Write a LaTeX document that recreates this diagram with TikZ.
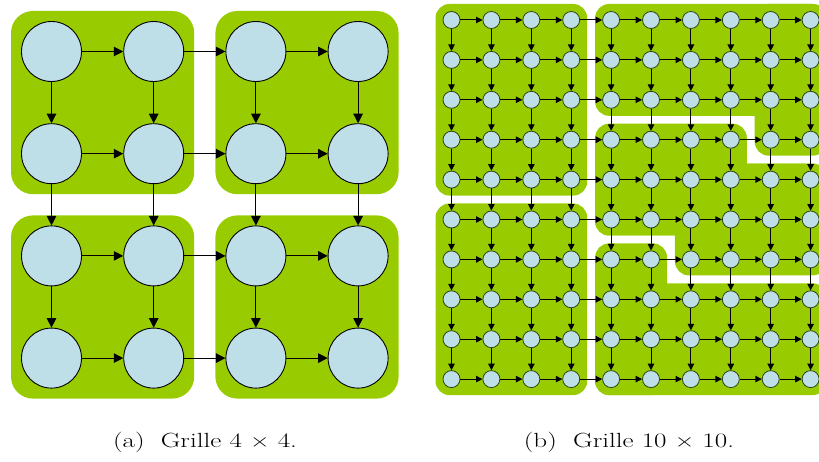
\documentclass[tikz,border=0pt]{standalone}
\usepackage{graphicx}
\usepackage{fontspec}
\setmainfont{Latin Modern Roman}
\usetikzlibrary{arrows.meta}
\definecolor{blockgreen}{RGB}{153,204,0}
\definecolor{nodeblue}{RGB}{190,223,231}
\definecolor{smallrim}{RGB}{40,70,20}
\newcommand\bregion[4]{\fill[smallblock] ({435.5+39.9*#1},{4+39.9*#2}) rectangle ({467.5+39.9*#3},{36+39.9*#4});}
\begin{document}
\begin{tikzpicture}[x=1pt,y=-1pt,
  bignode/.style={circle,draw=black,line width=0.9pt,fill=nodeblue,minimum size=60pt,inner sep=0pt},
  smallnode/.style={circle,draw=smallrim,line width=0.8pt,fill=nodeblue,minimum size=17pt,inner sep=0pt},
  bigarrow/.style={line width=1.1pt,-{Triangle[length=9.5pt,width=9.5pt]}},
  smallarrow/.style={line width=1pt,-{Triangle[length=6.5pt,width=6.5pt]}},
  bigblock/.style={fill=blockgreen,rounded corners=22pt},
  smallblock/.style={fill=blockgreen,rounded corners=14pt},
  captext/.style={anchor=base,inner sep=0pt,font=\fontsize{20.5}{24}\selectfont}]
\useasboundingbox (0,0) rectangle (819,462);
% ---------- (a) 4x4 grid ----------
\fill[bigblock] (11,11) rectangle (194.2,194.2);
\fill[bigblock] (215.4,11) rectangle (398.6,194.2);
\fill[bigblock] (11,215.4) rectangle (194.2,398.6);
\fill[bigblock] (215.4,215.4) rectangle (398.6,398.6);
\foreach \i in {0,...,3}
  \foreach \j in {0,...,3}
    \node[bignode] (a-\i-\j) at ({51.5+102.2*\i},{51.5+102.2*\j}) {};
\foreach \i in {0,...,2}{
  \pgfmathtruncatemacro\k{\i+1}
  \foreach \j in {0,...,3}{
    \draw[bigarrow] (a-\i-\j) -- (a-\k-\j);
    \draw[bigarrow] (a-\j-\i) -- (a-\j-\k);
  }
}
% ---------- (b) 10x10 grid ----------
\bregion{0}{0}{3}{4}
\bregion{0}{5}{3}{9}
\bregion{4}{0}{9}{2}
\bregion{8}{0}{9}{3}
\bregion{4}{3}{7}{5}
\bregion{4}{4}{9}{5}
\bregion{6}{4}{9}{6}
\bregion{4}{6}{5}{9}
\bregion{4}{7}{9}{9}
\foreach \i in {0,...,9}
  \foreach \j in {0,...,9}
    \node[smallnode] (b-\i-\j) at ({451.5+39.9*\i},{20+39.9*\j}) {};
\foreach \i in {0,...,8}{
  \pgfmathtruncatemacro\k{\i+1}
  \foreach \j in {0,...,9}{
    \draw[smallarrow] (b-\i-\j) -- (b-\k-\j);
    \draw[smallarrow] (b-\j-\i) -- (b-\j-\k);
  }
}
% ---------- captions ----------
\node[captext] (capa) at (205,447) {\scalebox{1.32}[1]{(a)\hspace{0.6em}Grille 4~×~4.}};
\node[captext] (capb) at (629,447) {\scalebox{1.32}[1]{(b)\hspace{0.6em}Grille 10~×~10.}};
\end{tikzpicture}
\end{document}
